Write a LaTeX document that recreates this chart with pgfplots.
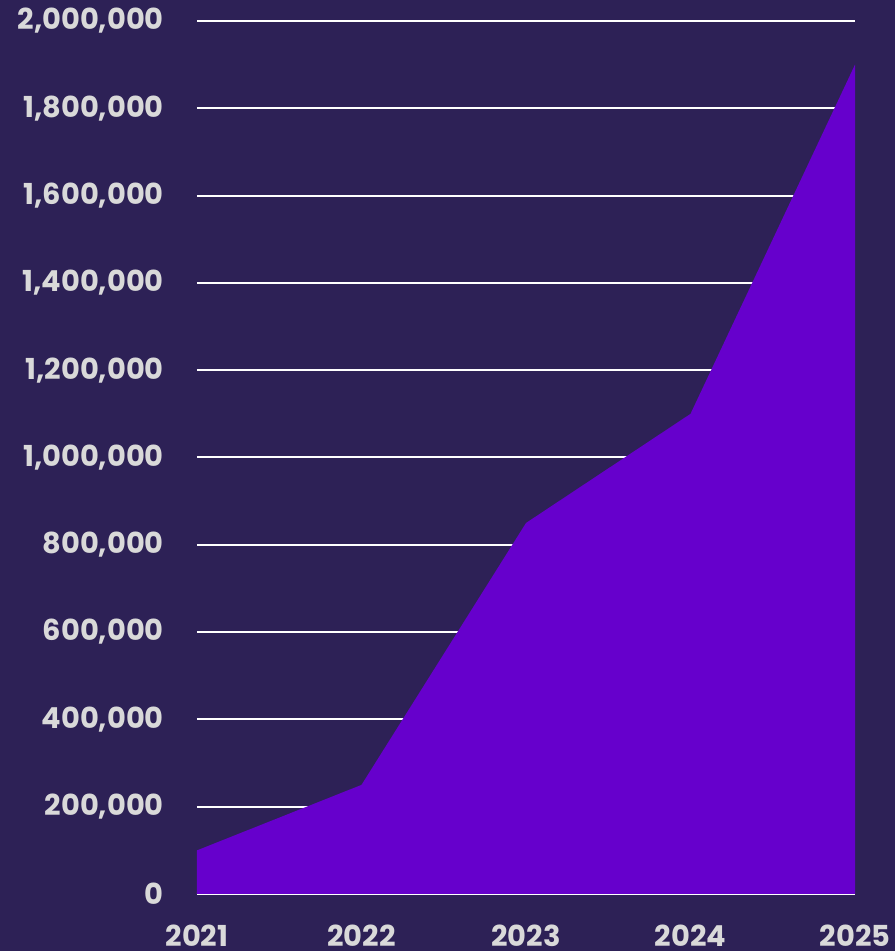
\documentclass[border=0pt]{standalone}
\usepackage{fontspec}
\setmainfont{Poppins}
\usepackage{pgfplots}
\pgfplotsset{compat=1.18}
\usetikzlibrary{backgrounds}
\definecolor{bg}{RGB}{45,33,86}
\definecolor{areafill}{RGB}{102,0,204}
\definecolor{ticktext}{RGB}{217,217,217}

\begin{document}
\begin{tikzpicture}
\begin{axis}[
    name=main,
    scale only axis,
    width=658bp,
    height=873bp,
    xmin=2021, xmax=2025,
    ymin=0, ymax=2000000,
    xtick={2021,2022,2023,2024,2025},
    ytick={0,200000,400000,600000,800000,1000000,1200000,1400000,1600000,1800000,2000000},
    scaled y ticks=false,
    xticklabel style={/pgf/number format/1000 sep={}},
    yticklabel style={/pgf/number format/fixed, /pgf/number format/1000 sep={,}},
    /pgf/number format/assume math mode=true,
    tick label style={font=\fontsize{29}{32}\selectfont\bfseries, text=ticktext, inner sep=0pt},
    yticklabel style={anchor=east, xshift=-33bp},
    xticklabel style={anchor=north, yshift=-31bp},
    major tick length=0pt,
    axis x line*=bottom,
    axis y line*=left,
    x axis line style={draw=white, line width=2bp},
    y axis line style={draw=none},
    ymajorgrids,
    grid style={draw=white, line width=2bp},
]
\addplot[fill=areafill, draw=none] coordinates {
    (2021,100000) (2022,250000) (2023,850000) (2024,1100000) (2025,1900000)
} \closedcycle;
\end{axis}
\begin{scope}[on background layer]
\fill[bg] ([xshift=-197bp,yshift=21bp]main.north west) rectangle ([xshift=40bp,yshift=-57bp]main.south east);
\end{scope}
\path[use as bounding box] ([xshift=-197bp,yshift=21bp]main.north west) rectangle ([xshift=40bp,yshift=-57bp]main.south east);
\end{tikzpicture}
\end{document}
